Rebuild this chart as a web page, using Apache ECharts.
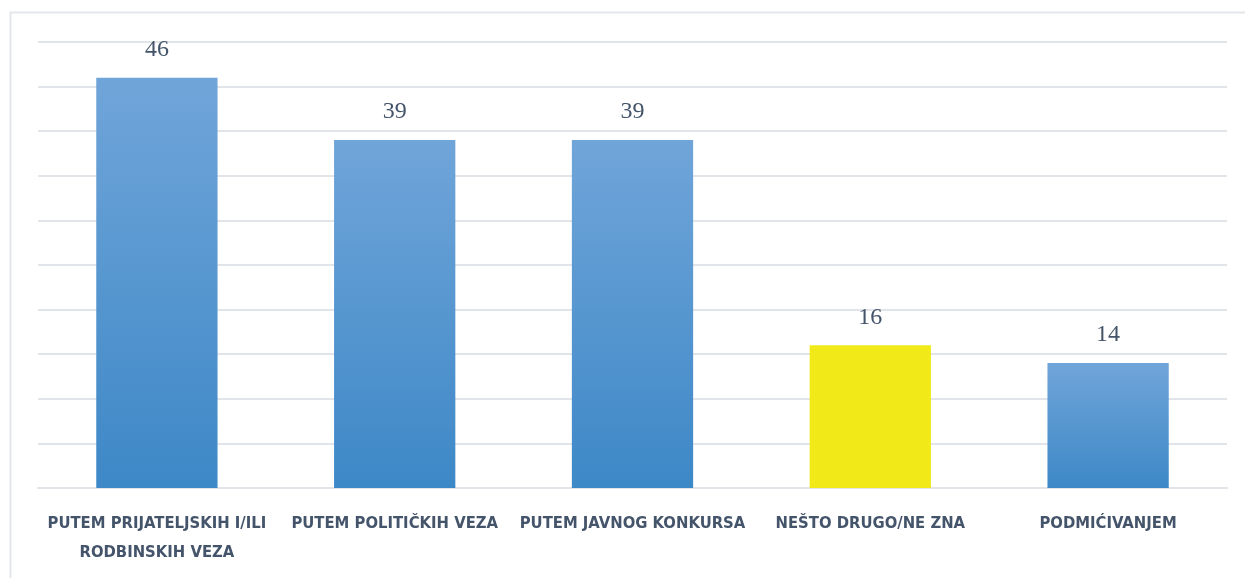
<!DOCTYPE html>
<html>
<head>
<meta charset="utf-8">
<script src="https://cdn.jsdelivr.net/npm/echarts@6/dist/echarts.min.js"></script>
<style>
html,body{margin:0;padding:0;background:#fff;}
#c{width:1245px;height:578px;}
</style>
</head>
<body>
<div id="c"></div>
<script>
const categories = ["PUTEM PRIJATELJSKIH I/ILI\nRODBINSKIH VEZA", "PUTEM POLITIČKIH VEZA", "PUTEM JAVNOG KONKURSA", "NEŠTO DRUGO/NE ZNA", "PODMIĆIVANJEM"];
const values = [46, 39, 39, 16, 14];
const highlight = [false, false, false, true, false];

const blueGrad = new echarts.graphic.LinearGradient(0, 0, 0, 1, [
  {offset: 0, color: '#70a5d9'},
  {offset: 1, color: '#3d88c7'}
]);
const yellow = '#f1ea18';

const chart = echarts.init(document.getElementById('c'), null, {renderer: 'canvas'});
chart.setOption({
  animation: false,
  backgroundColor: '#fff',
  graphic: [{
    type: 'rect', left: 8, top: 10, z: -10,
    shape: {x: 0, y: 0, width: 1300, height: 700},
    style: {fill: 'none', stroke: '#e3e7ec', lineWidth: 2}
  }],
  grid: {left: 38, right: 18, top: 42, bottom: 90, containLabel: false},
  xAxis: {
    type: 'category',
    data: categories,
    axisLine: {show: true, lineStyle: {color: '#e1e5ea', width: 2}},
    axisTick: {show: false},
    axisLabel: {
      interval: 0, margin: 21,
      color: '#44546a', fontFamily: '"DejaVu Sans"',
      fontWeight: 'bold condensed', fontSize: 16.5, lineHeight: 29
    }
  },
  yAxis: {
    type: 'value', min: 0, max: 50, interval: 5,
    axisLine: {show: false}, axisTick: {show: false}, axisLabel: {show: false},
    splitLine: {lineStyle: {color: '#e1e5ea', width: 2}}
  },
  series: [{
    type: 'bar',
    barWidth: '51%',
    data: values.map((v, i) => ({value: v, itemStyle: {color: highlight[i] ? yellow : blueGrad}})),
    label: {
      show: true, position: 'top', distance: 16,
      color: '#44546a', fontFamily: '"Liberation Serif", "DejaVu Serif", serif', fontSize: 24
    }
  }]
});
</script>
</body>
</html>
